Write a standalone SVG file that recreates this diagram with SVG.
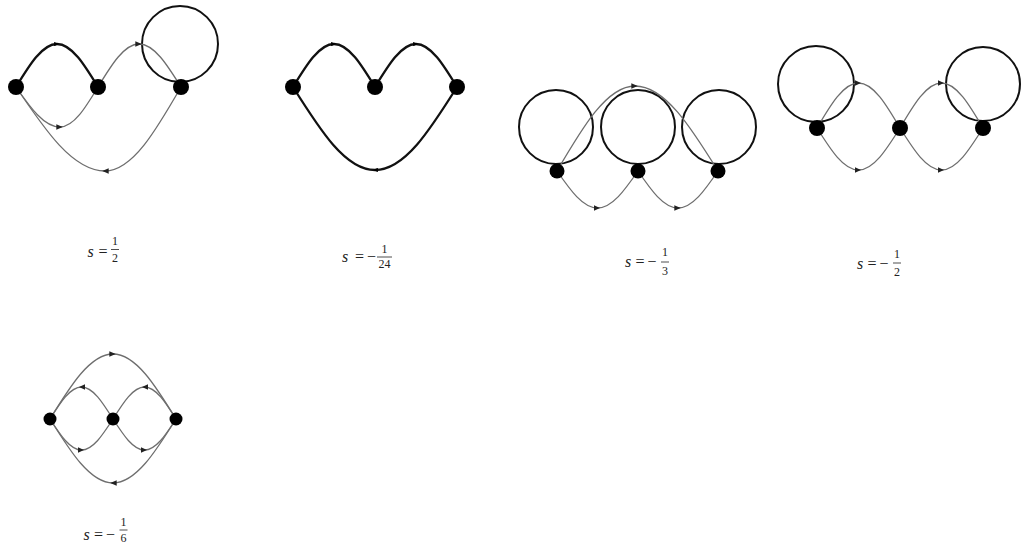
<svg xmlns="http://www.w3.org/2000/svg" width="1022" height="553" viewBox="0 0 1022 553">
<defs>
<style>
.thin{fill:none;stroke:#6e6e6e;stroke-width:1.3}
.thick{fill:none;stroke:#111;stroke-width:2.3}
.loop{fill:none;stroke:#111;stroke-width:2}
.dot{fill:#000}
.lbl{font-family:"Liberation Serif","DejaVu Serif",serif;font-size:16px;fill:#222;text-anchor:middle}
.it{font-style:italic}
.fr{font-family:"Liberation Serif","DejaVu Serif",serif;font-size:12px;fill:#222;text-anchor:middle}
.bar{stroke:#222;stroke-width:0.8}
</style>
<marker id="ah" viewBox="0 0 7 6" refX="4" refY="3" markerWidth="6.5" markerHeight="5.5" markerUnits="userSpaceOnUse" orient="auto">
<path d="M0,0 L7,3 L0,6 z" fill="#222"/>
</marker>
<marker id="ahk" viewBox="0 0 7 6" refX="4" refY="3" markerWidth="5" markerHeight="4.5" markerUnits="userSpaceOnUse" orient="auto">
<path d="M0,0 L7,3 L0,6 z" fill="#000"/>
</marker>
</defs>

<g id="connectors">
<!-- Diagram 1 -->
<circle class="loop" cx="180" cy="44" r="38"/>
<path class="thick" marker-mid="url(#ahk)" d="M16,87 C29.4,65 42.2,44 57,44 C71.8,44 84.6,65 98,87"/>
<path class="thin" marker-mid="url(#ah)" d="M98,87 C111.4,65 124.2,44 139,44 C154.2,44 167.3,65 181,87"/>
<path class="thin" marker-mid="url(#ah)" d="M16,87 C30.3,107.5 44.1,127 60,127 C73.8,127 85.6,107.5 98,87"/>
<path class="thin" marker-mid="url(#ah)" d="M181,87 C156.2,130 132.5,171 105,171 C72.8,171 45,130 16,87"/>
<!-- Diagram 2 -->
<path class="thick" marker-mid="url(#ahk)" d="M293,87 C306.4,65 319.2,44 334,44 C348.8,44 361.6,65 375,87"/>
<path class="thick" marker-mid="url(#ahk)" d="M375,87 C388.4,65 401.2,44 416,44 C430.8,44 443.6,65 457,87"/>
<path class="thick" marker-mid="url(#ahk)" d="M457,87 C430.3,129.5 404.7,170 375,170 C345.3,170 319.7,129.5 293,87"/>
<!-- Diagram 3 -->
<circle class="loop" cx="556" cy="127" r="37"/>
<circle class="loop" cx="638" cy="127" r="37"/>
<circle class="loop" cx="719" cy="127" r="37"/>
<path class="thin" marker-mid="url(#ah)" d="M557,171 C582.4,127.5 606.8,86 635,86 C665,86 691,127.5 718,171"/>
<path class="thin" marker-mid="url(#ah)" d="M557,171 C570.2,190 582.8,208 597.5,208 C612.2,208 624.8,190 638,171"/>
<path class="thin" marker-mid="url(#ah)" d="M638,171 C651,190 663.5,208 678,208 C692.5,208 705,190 718,171"/>
<!-- Diagram 4 -->
<circle class="loop" cx="816" cy="84" r="38"/>
<circle class="loop" cx="983" cy="84" r="37"/>
<path class="thin" marker-mid="url(#ah)" d="M817,128 C830.5,105 843.5,83 858.5,83 C873.5,83 886.5,105 900,128"/>
<path class="thin" marker-mid="url(#ah)" d="M900,128 C913.5,105 926.5,83 941.5,83 C956.5,83 969.5,105 983,128"/>
<path class="thin" marker-mid="url(#ah)" d="M817,128 C830.5,149.5 843.5,170 858.5,170 C873.5,170 886.5,149.5 900,128"/>
<path class="thin" marker-mid="url(#ah)" d="M900,128 C913.5,149.5 926.5,170 941.5,170 C956.5,170 969.5,149.5 983,128"/>
<!-- Diagram 5 -->
<path class="thin" marker-mid="url(#ah)" d="M50,419 C70.5,385.7 90.2,354 113,354 C135.8,354 155.5,385.7 176,419"/>
<path class="thin" marker-mid="url(#ah)" d="M176,419 C155.5,451.8 135.8,483 113,483 C90.2,483 70.5,451.8 50,419"/>
<path class="thin" marker-mid="url(#ah)" d="M113,419 C102.7,402.6 92.9,387 81.5,387 C70.1,387 60.3,402.6 50,419"/>
<path class="thin" marker-mid="url(#ah)" d="M176,419 C165.7,402.6 155.9,387 144.5,387 C133.1,387 123.3,402.6 113,419"/>
<path class="thin" marker-mid="url(#ah)" d="M50,419 C60.3,434.9 70.1,450 81.5,450 C92.9,450 102.7,434.9 113,419"/>
<path class="thin" marker-mid="url(#ah)" d="M113,419 C123.3,434.9 133.1,450 144.5,450 C155.9,450 165.7,434.9 176,419"/>
</g>

<g id="d1-n1"><circle class="dot" cx="16" cy="87" r="8"/></g>
<g id="d1-n2"><circle class="dot" cx="98" cy="87" r="8"/></g>
<g id="d1-n3"><circle class="dot" cx="181" cy="87" r="8"/></g>
<g id="d2-n1"><circle class="dot" cx="293" cy="87" r="8"/></g>
<g id="d2-n2"><circle class="dot" cx="375" cy="87" r="8"/></g>
<g id="d2-n3"><circle class="dot" cx="457" cy="87" r="8"/></g>
<g id="d3-n1"><circle class="dot" cx="557" cy="171" r="7.5"/></g>
<g id="d3-n2"><circle class="dot" cx="638" cy="171" r="7.5"/></g>
<g id="d3-n3"><circle class="dot" cx="718" cy="171" r="7.5"/></g>
<g id="d4-n1"><circle class="dot" cx="817" cy="128" r="8"/></g>
<g id="d4-n2"><circle class="dot" cx="900" cy="128" r="8"/></g>
<g id="d4-n3"><circle class="dot" cx="983" cy="128" r="8"/></g>
<g id="d5-n1"><circle class="dot" cx="50" cy="419" r="6.5"/></g>
<g id="d5-n2"><circle class="dot" cx="113" cy="419" r="6.5"/></g>
<g id="d5-n3"><circle class="dot" cx="176" cy="419" r="6.5"/></g>

<g id="label1">
<text class="lbl it" x="90.5" y="257">s</text>
<text class="lbl" x="103" y="257">=</text>
<text class="fr" x="115" y="245">1</text>
<line class="bar" x1="111" y1="249.5" x2="119" y2="249.5"/>
<text class="fr" x="115" y="262">2</text>
</g>
<g id="label2">
<text class="lbl it" x="345" y="262">s</text>
<text class="lbl" x="359.5" y="262">=</text>
<text class="lbl" x="371.5" y="262">−</text>
<text class="fr" x="384.5" y="253">1</text>
<line class="bar" x1="377" y1="257" x2="392" y2="257"/>
<text class="fr" x="384.5" y="268">24</text>
</g>
<g id="label3">
<text class="lbl it" x="628" y="267">s</text>
<text class="lbl" x="640" y="267">=</text>
<text class="lbl" x="652" y="267">−</text>
<text class="fr" x="665" y="256">1</text>
<line class="bar" x1="661" y1="262" x2="669" y2="262"/>
<text class="fr" x="665" y="275">3</text>
</g>
<g id="label4">
<text class="lbl it" x="860" y="269">s</text>
<text class="lbl" x="872" y="269">=</text>
<text class="lbl" x="884" y="269">−</text>
<text class="fr" x="897" y="258">1</text>
<line class="bar" x1="893" y1="263" x2="901" y2="263"/>
<text class="fr" x="897" y="276">2</text>
</g>
<g id="label5">
<text class="lbl it" x="86.5" y="540">s</text>
<text class="lbl" x="98.5" y="540">=</text>
<text class="lbl" x="110.5" y="540">−</text>
<text class="fr" x="123.5" y="526">1</text>
<line class="bar" x1="119.5" y1="530" x2="127.5" y2="530"/>
<text class="fr" x="123.5" y="542">6</text>
</g>
</svg>
